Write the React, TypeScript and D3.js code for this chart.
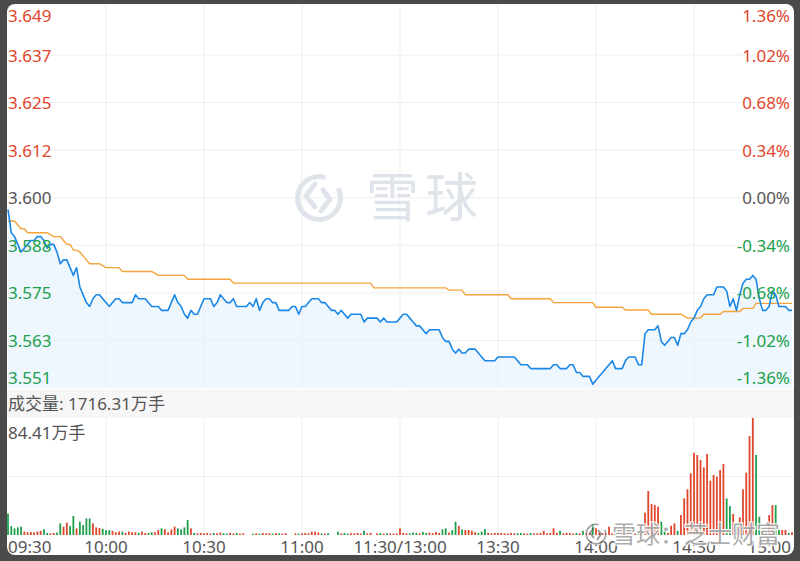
import React from "react";
import * as d3 from "d3";

const prevClose = 3.6;
const priceTicks = ["3.649", "3.637", "3.625", "3.612", "3.600", "3.588", "3.575", "3.563", "3.551"];
const pctTicks = ["1.36%", "1.02%", "0.68%", "0.34%", "0.00%", "-0.34%", "-0.68%", "-1.02%", "-1.36%"];
const timeLabels = ["09:30", "10:00", "10:30", "11:00", "11:30/13:00", "13:30", "14:00", "14:30", "15:00"];
const totalVolumeText = "成交量: 1716.31万手";
const maxVolume = 84.41;
const maxVolumeText = "84.41万手";

const prices = [
  3.597, 3.591, 3.590, 3.588, 3.586, 3.587, 3.588, 3.589, 3.589, 3.590,
  3.590, 3.589, 3.587, 3.588, 3.588, 3.586, 3.583, 3.584, 3.584, 3.582,
  3.580, 3.582, 3.577, 3.575, 3.573, 3.572, 3.574, 3.575, 3.575, 3.574,
  3.573, 3.572, 3.573, 3.574, 3.574, 3.573, 3.573, 3.573, 3.573, 3.575,
  3.574, 3.574, 3.574, 3.573, 3.572, 3.572, 3.572, 3.571, 3.571, 3.571,
  3.573, 3.575, 3.573, 3.572, 3.570, 3.569, 3.571, 3.570, 3.570, 3.572,
  3.574, 3.574, 3.574, 3.572, 3.573, 3.575, 3.574, 3.573, 3.573, 3.574,
  3.572, 3.572, 3.572, 3.572, 3.573, 3.572, 3.574, 3.571, 3.573, 3.574,
  3.574, 3.573, 3.573, 3.571, 3.571, 3.571, 3.571, 3.572, 3.572, 3.570,
  3.572, 3.572, 3.573, 3.574, 3.574, 3.574, 3.573, 3.573, 3.572, 3.571,
  3.571, 3.570, 3.571, 3.570, 3.569, 3.570, 3.570, 3.570, 3.570, 3.568,
  3.569, 3.569, 3.569, 3.569, 3.568, 3.569, 3.568, 3.568, 3.568, 3.568,
  3.569, 3.570, 3.570, 3.569, 3.568, 3.567, 3.567, 3.566, 3.565, 3.566,
  3.566, 3.566, 3.566, 3.564, 3.563, 3.563, 3.561, 3.560, 3.561, 3.560,
  3.560, 3.561, 3.561, 3.561, 3.560, 3.559, 3.558, 3.558, 3.558, 3.558,
  3.559, 3.559, 3.559, 3.559, 3.559, 3.559, 3.558, 3.557, 3.557, 3.557,
  3.556, 3.556, 3.556, 3.556, 3.556, 3.556, 3.556, 3.557, 3.557, 3.556,
  3.556, 3.556, 3.557, 3.557, 3.555, 3.555, 3.554, 3.554, 3.554, 3.552,
  3.553, 3.554, 3.555, 3.556, 3.557, 3.558, 3.556, 3.556, 3.556, 3.558,
  3.559, 3.559, 3.559, 3.557, 3.557, 3.565, 3.566, 3.566, 3.566, 3.567,
  3.563, 3.562, 3.563, 3.564, 3.564, 3.562, 3.565, 3.565, 3.566, 3.568,
  3.569, 3.571, 3.572, 3.574, 3.575, 3.575, 3.575, 3.577, 3.577, 3.577,
  3.576, 3.572, 3.574, 3.571, 3.575, 3.578, 3.579, 3.579, 3.580, 3.579,
  3.574, 3.571, 3.571, 3.572, 3.576, 3.575, 3.572, 3.572, 3.572, 3.571, 3.571,
];

const avgPrices = [
  3.594, 3.594, 3.594, 3.593, 3.592, 3.592, 3.591, 3.591, 3.591, 3.591,
  3.591, 3.591, 3.591, 3.5905, 3.590, 3.590, 3.590, 3.589, 3.588, 3.588,
  3.5865, 3.5865, 3.586, 3.585, 3.584, 3.583, 3.583, 3.583, 3.583, 3.5825,
  3.582, 3.582, 3.582, 3.582, 3.582, 3.581, 3.581, 3.581, 3.581, 3.581,
  3.581, 3.581, 3.581, 3.581, 3.581, 3.5805, 3.580, 3.580, 3.580, 3.580,
  3.580, 3.580, 3.580, 3.580, 3.580, 3.579, 3.579, 3.579, 3.579, 3.579,
  3.579, 3.579, 3.579, 3.579, 3.579, 3.579, 3.579, 3.579, 3.579, 3.578,
  3.578, 3.578, 3.578, 3.578, 3.578, 3.578, 3.578, 3.578, 3.578, 3.578,
  3.578, 3.578, 3.578, 3.578, 3.578, 3.578, 3.578, 3.578, 3.578, 3.578,
  3.578, 3.578, 3.578, 3.578, 3.578, 3.578, 3.578, 3.578, 3.578, 3.578,
  3.578, 3.578, 3.578, 3.578, 3.578, 3.578, 3.578, 3.578, 3.578, 3.578,
  3.578, 3.578, 3.5768, 3.5768, 3.5768, 3.5768, 3.5768, 3.5768, 3.5768, 3.5768,
  3.5768, 3.5768, 3.5768, 3.5768, 3.5768, 3.5768, 3.5768, 3.5768, 3.5768, 3.5768,
  3.5768, 3.5768, 3.5768, 3.5768, 3.5768, 3.5762, 3.5762, 3.5762, 3.5762, 3.5762,
  3.575, 3.575, 3.575, 3.575, 3.575, 3.575, 3.575, 3.575, 3.575, 3.575,
  3.575, 3.575, 3.575, 3.575, 3.574, 3.574, 3.574, 3.574, 3.574, 3.574,
  3.574, 3.574, 3.574, 3.574, 3.574, 3.574, 3.574, 3.573, 3.573, 3.573,
  3.573, 3.573, 3.573, 3.573, 3.573, 3.573, 3.573, 3.573, 3.573, 3.573,
  3.5718, 3.5718, 3.5718, 3.5718, 3.5718, 3.5718, 3.5718, 3.5718, 3.5718, 3.5711,
  3.5711, 3.5711, 3.5711, 3.5711, 3.5711, 3.5711, 3.5711, 3.570, 3.570, 3.570,
  3.570, 3.570, 3.570, 3.570, 3.570, 3.570, 3.570, 3.5695, 3.569, 3.569,
  3.569, 3.569, 3.569, 3.570, 3.570, 3.570, 3.570, 3.570, 3.570, 3.5707,
  3.5707, 3.5707, 3.5707, 3.5707, 3.5707, 3.5715, 3.5715, 3.5715, 3.5715, 3.5728,
  3.5728, 3.5728, 3.5728, 3.5728, 3.5728, 3.5728, 3.5728, 3.5728, 3.5728, 3.5728, 3.5728,
];

const volumes = [
  15.5, 6.5, 4.8, 5.5, 6, 2.5, 2, 2.2, 1.8, 2.5,
  3, 4, 1.5, 1.2, 1.5, 1.8, 8.4, 6, 8.9, 6.5,
  13.7, 4.8, 9.6, 7.2, 12, 12, 8.4, 5.5, 5, 4.5,
  3.5, 3.5, 3, 2, 2.5, 2.5, 1.5, 2.5, 2, 2,
  1.5, 2.5, 1.5, 1.5, 2, 2, 3.6, 4.8, 4, 2,
  4, 6, 4.8, 4, 5.5, 10.8, 4.8, 1.5, 1.2, 1.5,
  1.2, 1.5, 1, 1.5, 1.2, 1.8, 1.3, 1, 1.5, 1.2,
  1.5, 1, 1.2, 0, 0, 1, 1.2, 1, 1.5, 1.2,
  1.3, 1, 1.5, 1.2, 1, 1.3, 0, 0, 1.2, 1,
  1.3, 1.5, 1.2, 2.4, 2.4, 1.8, 1.2, 1, 1.3, 0,
  0, 2.4, 1.2, 1.5, 1, 1.3, 1.2, 1.5, 1, 3,
  1.2, 1.5, 0, 1.2, 1.5, 1, 1.3, 1.2, 1, 1.2,
  4.8, 1.5, 1.2, 1.3, 1.8, 1.5, 1.2, 2.2, 1.5, 1.8,
  1.3, 2.2, 1.5, 4, 4.8, 1.8, 3.5, 9.6, 6.5, 4,
  3.6, 3.6, 3, 2, 1.5, 2.4, 4.3, 1.5, 1.2, 1.5,
  1.3, 1.5, 1.2, 1, 1.5, 1.2, 1.3, 1.5, 1.2, 1,
  1.5, 1.2, 1.3, 1.5, 3, 1.2, 1.5, 4.8, 1.5, 3,
  1.2, 1.5, 1.3, 1, 1.5, 1.2, 3, 1.5, 1.2, 7.9,
  4.8, 1.5, 1.3, 1.5, 6, 1.3, 1.5, 1.2, 1.3, 1.5,
  1.2, 1.5, 1.3, 1.5, 1.2, 16.1, 31.7, 22.4, 21.6, 20.4,
  9.6, 3.6, 1.5, 6.7, 8.4, 3, 14.4, 26.4, 33, 44.5,
  59.4, 57.7, 54.1, 48.8, 58.4, 39.2, 43.3, 42.1, 46.9, 51.2,
  26.4, 20.9, 15.2, 8.4, 12.7, 33, 45, 71.4, 84.41, 57.7,
  13.2, 3.6, 1.8, 14.4, 21.6, 21.6, 4, 3.6, 3.6, 1.5, 2,
];

const RED = "#e0462c";
const GREEN = "#20a04c";
const GRAY_TXT = "#555555";
const FONT = "'Noto Sans', 'Noto Sans CJK SC', sans-serif";

export default function App() {
  const x = d3.scaleLinear().domain([0, 240]).range([8, 792]);
  const yP = d3.scaleLinear().domain([3.551, 3.649]).range([388, 7.5]);
  const yV = d3.scaleLinear().domain([0, maxVolume]).range([535, 418]);
  const gridY = d3.scaleLinear().domain([0, priceTicks.length - 1]).range([7.5, 388]);

  const line = d3.line<number>().x((_, i) => x(i)).y((d) => yP(d));
  const area = d3.area<number>().x((_, i) => x(i)).y0(388).y1((d) => yP(d));

  const labelColor = (i: number) => (i < 4 ? RED : i === 4 ? GRAY_TXT : GREEN);
  const labelBase = (i: number) =>
    i === 0 ? 21.7 : i === priceTicks.length - 1 ? 384 : gridY(i) + 6.5;

  const vGrid = d3.range(1, timeLabels.length - 1).map((i) => x(i * 30));

  const arc = d3.arc()({ innerRadius: 19, outerRadius: 24, startAngle: 0.35 * Math.PI, endAngle: 2.1 * Math.PI } as any) as string;
  const arcSmall = d3.arc()({ innerRadius: 8.5, outerRadius: 11, startAngle: 0.35 * Math.PI, endAngle: 2.1 * Math.PI } as any) as string;

  return (
    <div style={{ position: "absolute", left: 0, top: 0 }}>
      <svg width={800} height={561} style={{ display: "block", fontFamily: FONT }}>
        <rect x={0} y={0} width={800} height={561} fill="#4a4a4a" />
        <rect x={7} y={4} width={787} height={551} rx={8} fill="#ffffff" />

        {/* price fill */}
        <path d={area(prices) as string} fill="#eef6fe" />

        {/* grid */}
        {priceTicks.map((_, i) =>
          i > 0 && i < priceTicks.length - 1 ? (
            <line key={"hg" + i} x1={8} x2={792} y1={gridY(i)} y2={gridY(i)} stroke="#efefef" strokeWidth={1} />
          ) : null
        )}
        {vGrid.map((gx, i) => (
          <g key={"vg" + i}>
            <line x1={gx} x2={gx} y1={4} y2={388} stroke="#efefef" strokeWidth={1} />
            <line x1={gx} x2={gx} y1={418} y2={537} stroke="#efefef" strokeWidth={1} />
          </g>
        ))}
        <line x1={8} x2={792} y1={476.5} y2={476.5} stroke="#efefef" strokeWidth={1} />

        {/* watermark center */}
        <g transform="translate(319,198)" fill="#dfe4eb" stroke="none">
          <path d={arc} />
          <path d="M -4,-14 L -13,-2 L -4,9 M 2,13 L 11,1 L 4,-8" fill="none" stroke="#dfe4eb" strokeWidth={5} strokeLinejoin="round" strokeLinecap="round" />
        </g>
        <text x={366} y={217} fontSize={53} fill="#dfe4eb" fontFamily="'Noto Sans CJK SC', sans-serif" letterSpacing={6}>雪球</text>

        {/* lines */}
        <path d={line(avgPrices) as string} fill="none" stroke="#f4a43c" strokeWidth={1.4} />
        <path d={line(prices) as string} fill="none" stroke="#1b87e6" strokeWidth={1.6} strokeLinejoin="round" />

        {/* price labels */}
        {priceTicks.map((t, i) => (
          <text key={"pl" + i} x={8} y={labelBase(i)} fontSize={17} fill={labelColor(i)}>{t}</text>
        ))}
        {pctTicks.map((t, i) => (
          <text key={"pr" + i} x={790} y={labelBase(i)} fontSize={17} fill={labelColor(i)} textAnchor="end">{t}</text>
        ))}

        {/* volume band */}
        <rect x={7} y={389} width={787} height={29} fill="#f6f6f6" />
        <text x={8} y={409.5} fontSize={17} fill={GRAY_TXT}>{totalVolumeText}</text>
        <text x={8} y={439} fontSize={17} fill={GRAY_TXT}>{maxVolumeText}</text>

        {/* volume bars */}
        {volumes.map((v, i) => {
          const prev = i === 0 ? prevClose : prices[i - 1];
          const c = prices[i] >= prev ? RED : GREEN;
          return v > 0 ? (
            <rect key={"vb" + i} x={x(i) - 0.9} y={yV(v)} width={1.8} height={535 - yV(v)} fill={c} />
          ) : null;
        })}

        {/* time labels */}
        {timeLabels.map((t, i) => (
          <text
            key={"tl" + i}
            x={i === 0 ? 8 : i === timeLabels.length - 1 ? 791 : x(i * 30)}
            y={553}
            fontSize={17}
            fill={GRAY_TXT}
            textAnchor={i === 0 ? "start" : i === timeLabels.length - 1 ? "end" : "middle"}
          >
            {t}
          </text>
        ))}

        {/* bottom-right watermark */}
        <g transform="translate(596,534)">
          <path d={arcSmall} fill="rgba(90,90,90,0.55)" stroke="rgba(255,255,255,0.85)" strokeWidth={1} />
          <path d="M -2,-6 L -6,-1 L -2,4 M 1,6 L 5,0 L 2,-4" fill="none" stroke="rgba(90,90,90,0.6)" strokeWidth={2} />
        </g>
        <text
          x={612}
          y={543}
          fontSize={24}
          fontFamily="'Noto Sans CJK SC', sans-serif"
          fill="rgba(100,100,100,0.55)"
          stroke="rgba(255,255,255,0.85)"
          strokeWidth={2.5}
          paintOrder="stroke"
        >
          雪球：芝士财富
        </text>
      </svg>
    </div>
  );
}
